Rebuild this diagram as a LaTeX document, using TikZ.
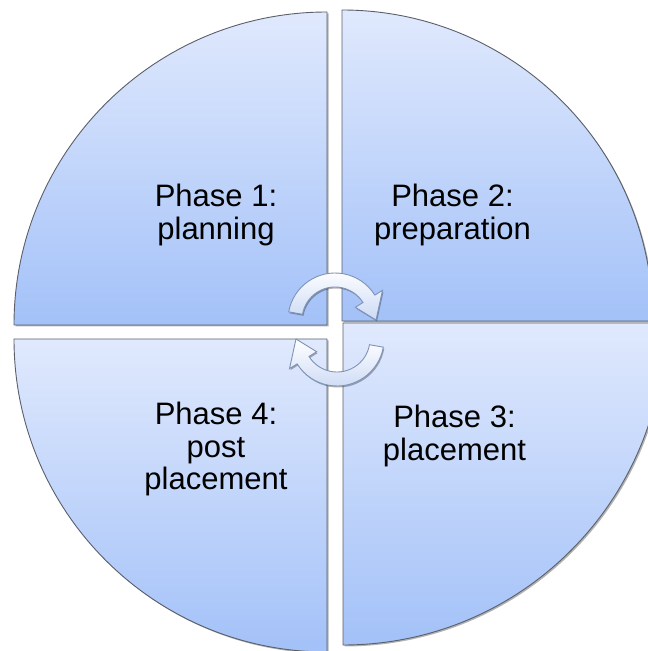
\documentclass[tikz,border=0pt]{standalone}
\usepackage{fontspec}
\setmainfont{Liberation Sans}
\usetikzlibrary{shadows}
\definecolor{qlight}{HTML}{E0E9FD}
\definecolor{qdark}{HTML}{A3C1F8}
\definecolor{qedge}{HTML}{5A5F6A}
\definecolor{adark}{HTML}{CCDAF5}
\definecolor{aedge}{HTML}{7F93B6}
\begin{document}
\begin{tikzpicture}[x=1pt,y=1pt,
  quad/.style={draw=qedge, line width=0.9pt, top color=qlight, bottom color=qdark,
    drop shadow={shadow xshift=1.5pt, shadow yshift=-1.5pt, opacity=0.3, fill=black}},
  arrowsty/.style={draw=aedge, line width=0.9pt, top color=white, bottom color=adark,
    drop shadow={shadow xshift=1pt, shadow yshift=-1.5pt, opacity=0.3, fill=black}},
  lbl/.style={anchor=base, inner sep=0pt, font=\fontsize{31}{32.5}\selectfont}]
\useasboundingbox (0,0) rectangle (648,651);
\begin{scope}
\clip (0,0) rectangle (648,651);
% quadrants
\path[quad] (327,326) -- (14,326) arc[start angle=180,end angle=90,radius=313] -- cycle;
\path[quad] (342,330) -- (342,641) arc[start angle=90,end angle=0,radius=311] -- cycle;
\path[quad] (343,328) -- (665,328) arc[start angle=0,end angle=-90,radius=322] -- cycle;
\path[quad] (327,312) -- (327,-1) arc[start angle=270,end angle=180,radius=313] -- cycle;
\end{scope}
% circular arrows
\begin{scope}[shift={(335,331)}]
\path[arrowsty] (170:47) arc[start angle=170,end angle=32,radius=47] -- (32:56) -- (0:41)
  -- (32:24) -- (32:33) arc[start angle=32,end angle=170,radius=33] -- cycle;
\end{scope}
\begin{scope}[shift={(337,312)}, rotate=180]
\path[arrowsty] (170:47) arc[start angle=170,end angle=32,radius=47] -- (32:56) -- (0:41)
  -- (32:24) -- (32:33) arc[start angle=32,end angle=170,radius=33] -- cycle;
\end{scope}
% labels
\node[lbl] (p1) at (216,444) {\begin{tabular}[t]{@{}c@{}}Phase 1:\\planning\end{tabular}};
\node[lbl] (p2) at (452.5,444) {\begin{tabular}[t]{@{}c@{}}Phase 2:\\preparation\end{tabular}};
\node[lbl] (p3) at (454.5,223) {\begin{tabular}[t]{@{}c@{}}Phase 3:\\placement\end{tabular}};
\node[lbl] (p4) at (216,226) {\begin{tabular}[t]{@{}c@{}}Phase 4:\\post\\placement\end{tabular}};
\end{tikzpicture}
\end{document}
